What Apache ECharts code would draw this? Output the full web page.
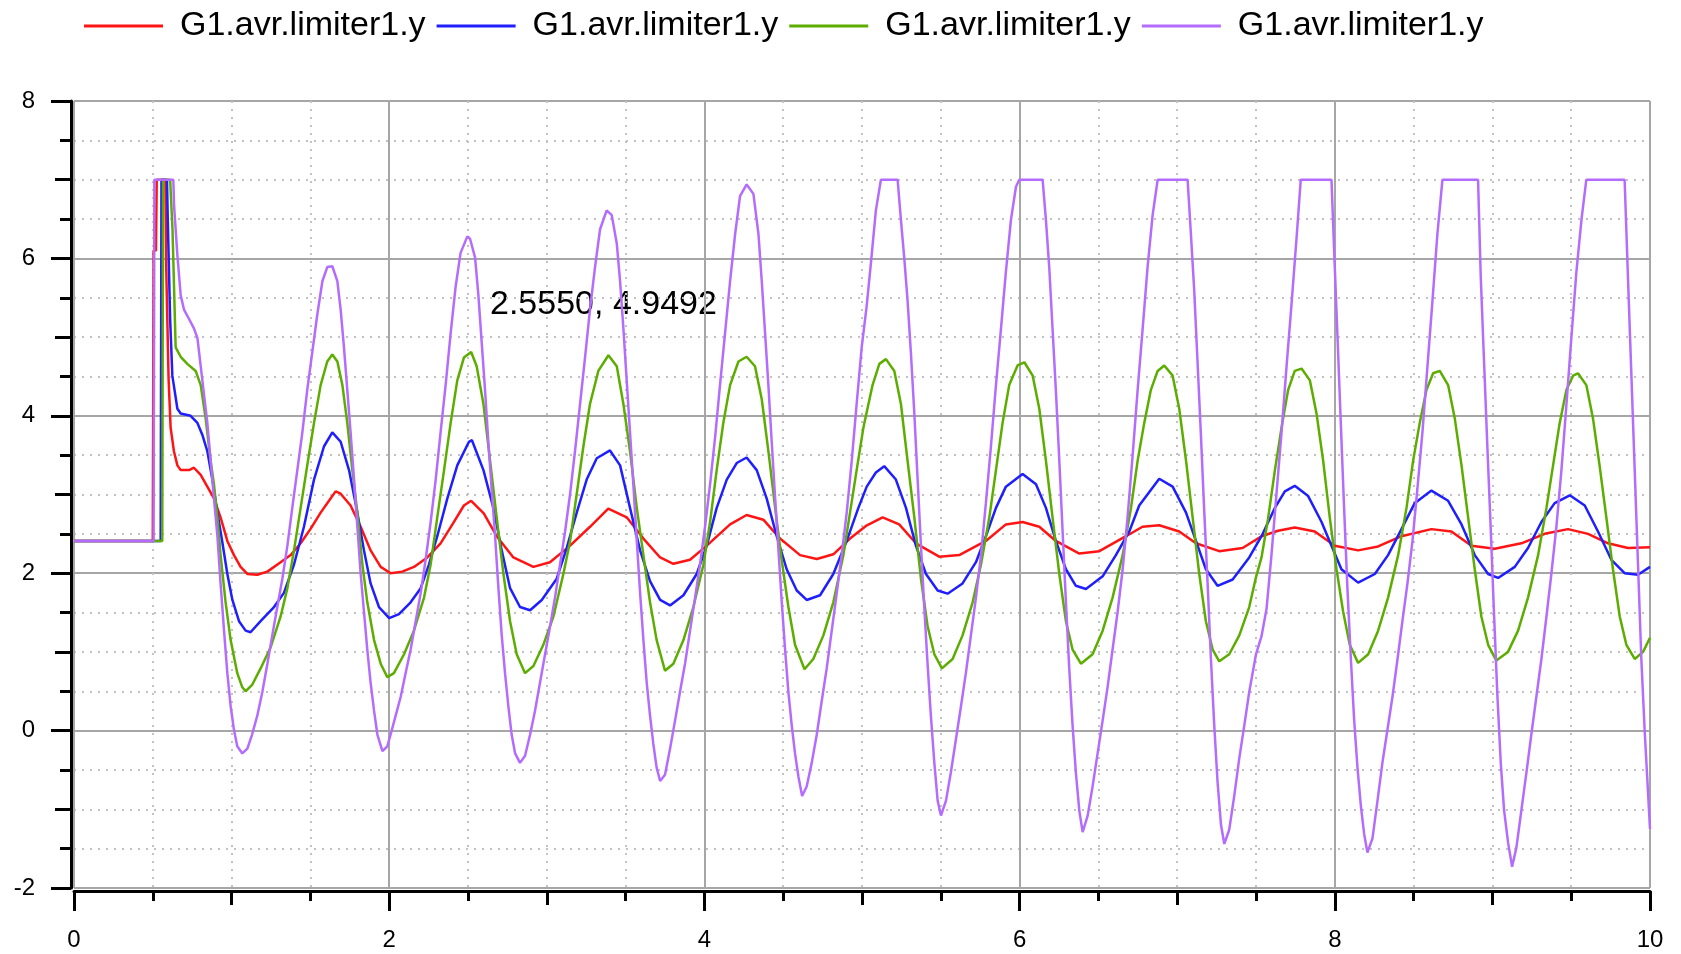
<!DOCTYPE html>
<html>
<head>
<meta charset="utf-8">
<script src="https://cdn.jsdelivr.net/npm/echarts@6/dist/echarts.min.js"></script>
<style>
  html, body { margin: 0; padding: 0; background: #fff; }
  #chart { width: 1681px; height: 954px; }
</style>
</head>
<body>
<div id="chart"></div>
<script>
// signal values, [time, value]
const legendLabel = 'G1.avr.limiter1.y';
const cursorText = '2.5550, 4.9492';
const yTicks = { min: -2, max: 8, step: 2 };
const xTicks = { min: 0, max: 10, step: 2 };

const redPoints = [
  [0, 2.41], [0.5, 2.41], [0.505, 6.1], [0.52, 6.1], [0.525, 7], [0.58, 7], [0.585, 5.9], [0.596, 5.9],
  [0.6, 4.48], [0.613, 3.85], [0.634, 3.55], [0.656, 3.37], [0.677, 3.31], [0.73, 3.31], [0.761, 3.34],
  [0.804, 3.25], [0.846, 3.1], [0.888, 2.95], [0.93, 2.71], [0.973, 2.41], [1.015, 2.23], [1.057, 2.08],
  [1.1, 1.99], [1.163, 1.98], [1.227, 2.02], [1.311, 2.14], [1.375, 2.23], [1.438, 2.38], [1.5, 2.56],
  [1.565, 2.77], [1.628, 2.95], [1.66, 3.04], [1.692, 3.01], [1.755, 2.86], [1.819, 2.59], [1.882, 2.29],
  [1.946, 2.08], [2.009, 2.0], [2.083, 2.02], [2.157, 2.08], [2.242, 2.2], [2.326, 2.38], [2.41, 2.65],
  [2.474, 2.86], [2.52, 2.92], [2.6, 2.76], [2.682, 2.47], [2.788, 2.2], [2.915, 2.08], [3.02, 2.14],
  [3.148, 2.35], [3.274, 2.59], [3.39, 2.82], [3.507, 2.71], [3.613, 2.44], [3.719, 2.2], [3.803, 2.12],
  [3.909, 2.17], [4.015, 2.35], [4.163, 2.62], [4.268, 2.74], [4.374, 2.68], [4.48, 2.44], [4.607, 2.23],
  [4.713, 2.18], [4.818, 2.24], [4.924, 2.44], [5.025, 2.6], [5.131, 2.71], [5.236, 2.62], [5.342, 2.38],
  [5.49, 2.21], [5.617, 2.23], [5.786, 2.41], [5.913, 2.62], [6.019, 2.65], [6.125, 2.59], [6.23, 2.41],
  [6.379, 2.25], [6.506, 2.28], [6.675, 2.47], [6.78, 2.59], [6.886, 2.61], [7.013, 2.53], [7.119, 2.38],
  [7.267, 2.28], [7.415, 2.32], [7.535, 2.47], [7.64, 2.54], [7.746, 2.58], [7.873, 2.53], [8.0, 2.35],
  [8.148, 2.29], [8.275, 2.34], [8.423, 2.47], [8.613, 2.56], [8.74, 2.53], [8.867, 2.35], [9.015, 2.31],
  [9.184, 2.38], [9.332, 2.5], [9.48, 2.56], [9.607, 2.5], [9.734, 2.38], [9.86, 2.32], [10, 2.33]
];

const bluePoints = [
  [0, 2.41], [0.55, 2.41], [0.555, 7], [0.59, 7], [0.595, 6.49], [0.61, 5.23], [0.624, 4.51], [0.656, 4.09],
  [0.677, 4.03], [0.74, 4.0], [0.783, 3.91], [0.814, 3.76], [0.846, 3.55], [0.878, 3.19], [0.91, 2.77],
  [0.94, 2.41], [0.973, 1.99], [1.005, 1.66], [1.047, 1.39], [1.089, 1.27], [1.12, 1.25], [1.184, 1.39],
  [1.269, 1.57], [1.332, 1.75], [1.396, 2.11], [1.459, 2.59], [1.523, 3.19], [1.586, 3.61], [1.639, 3.79],
  [1.692, 3.67], [1.745, 3.31], [1.798, 2.77], [1.84, 2.29], [1.882, 1.87], [1.935, 1.57], [2.0, 1.43],
  [2.062, 1.48], [2.136, 1.63], [2.2, 1.81], [2.252, 2.11], [2.305, 2.47], [2.369, 2.95], [2.432, 3.37],
  [2.506, 3.67], [2.525, 3.69], [2.598, 3.31], [2.661, 2.83], [2.714, 2.29], [2.767, 1.81], [2.83, 1.57],
  [2.894, 1.53], [2.968, 1.66], [3.063, 1.93], [3.126, 2.32], [3.19, 2.77], [3.253, 3.19], [3.317, 3.46],
  [3.401, 3.56], [3.465, 3.37], [3.528, 2.83], [3.592, 2.29], [3.655, 1.9], [3.719, 1.66], [3.782, 1.59],
  [3.867, 1.72], [3.951, 1.99], [4.015, 2.35], [4.078, 2.83], [4.142, 3.19], [4.205, 3.4], [4.268, 3.47],
  [4.332, 3.31], [4.395, 2.95], [4.459, 2.47], [4.522, 2.05], [4.586, 1.78], [4.649, 1.66], [4.734, 1.72],
  [4.818, 1.99], [4.903, 2.41], [4.977, 2.83], [5.03, 3.1], [5.088, 3.28], [5.141, 3.36], [5.215, 3.19],
  [5.279, 2.83], [5.342, 2.35], [5.406, 1.99], [5.48, 1.78], [5.543, 1.74], [5.638, 1.87], [5.723, 2.14],
  [5.786, 2.47], [5.85, 2.83], [5.913, 3.1], [6.019, 3.26], [6.104, 3.13], [6.167, 2.83], [6.23, 2.41],
  [6.294, 2.05], [6.357, 1.84], [6.421, 1.8], [6.527, 1.96], [6.611, 2.23], [6.696, 2.53], [6.759, 2.86],
  [6.886, 3.2], [6.971, 3.1], [7.056, 2.77], [7.119, 2.41], [7.182, 2.05], [7.256, 1.84], [7.352, 1.92],
  [7.457, 2.2], [7.535, 2.47], [7.62, 2.83], [7.683, 3.04], [7.746, 3.11], [7.831, 2.98], [7.916, 2.65],
  [7.979, 2.35], [8.042, 2.05], [8.148, 1.88], [8.254, 1.99], [8.338, 2.23], [8.423, 2.56], [8.507, 2.89],
  [8.613, 3.05], [8.719, 2.92], [8.804, 2.62], [8.888, 2.23], [8.973, 1.99], [9.036, 1.94], [9.142, 2.08],
  [9.226, 2.32], [9.311, 2.65], [9.395, 2.89], [9.491, 2.99], [9.586, 2.86], [9.67, 2.53], [9.755, 2.17],
  [9.839, 2.0], [9.924, 1.98], [10, 2.08]
];

const greenPoints = [
  [0, 2.41], [0.56, 2.41], [0.565, 7], [0.61, 7], [0.625, 6.37], [0.645, 4.87], [0.677, 4.75], [0.719, 4.66],
  [0.772, 4.57], [0.804, 4.39], [0.835, 3.97], [0.867, 3.43], [0.888, 3.13], [0.91, 2.71], [0.93, 2.23],
  [0.962, 1.63], [0.994, 1.15], [1.036, 0.73], [1.068, 0.55], [1.089, 0.5], [1.13, 0.58], [1.184, 0.79],
  [1.248, 1.06], [1.311, 1.45], [1.354, 1.81], [1.396, 2.29], [1.438, 2.83], [1.48, 3.37], [1.523, 3.91],
  [1.565, 4.39], [1.607, 4.69], [1.639, 4.78], [1.671, 4.69], [1.703, 4.39], [1.734, 3.91], [1.766, 3.31],
  [1.798, 2.77], [1.83, 2.11], [1.861, 1.63], [1.904, 1.15], [1.946, 0.85], [1.988, 0.68], [2.03, 0.73],
  [2.094, 0.97], [2.157, 1.27], [2.221, 1.69], [2.263, 2.11], [2.305, 2.71], [2.348, 3.31], [2.39, 3.91],
  [2.432, 4.45], [2.474, 4.74], [2.52, 4.81], [2.555, 4.63], [2.598, 4.15], [2.64, 3.43], [2.682, 2.71],
  [2.725, 1.99], [2.767, 1.39], [2.809, 0.97], [2.862, 0.73], [2.915, 0.82], [2.978, 1.09], [3.042, 1.45],
  [3.105, 1.99], [3.148, 2.41], [3.19, 3.01], [3.232, 3.61], [3.274, 4.15], [3.327, 4.57], [3.391, 4.77],
  [3.444, 4.63], [3.486, 4.15], [3.528, 3.55], [3.571, 2.83], [3.613, 2.23], [3.655, 1.63], [3.697, 1.15],
  [3.75, 0.76], [3.803, 0.85], [3.867, 1.15], [3.93, 1.57], [3.994, 2.11], [4.036, 2.65], [4.078, 3.31],
  [4.12, 3.91], [4.163, 4.39], [4.216, 4.69], [4.268, 4.75], [4.321, 4.63], [4.364, 4.21], [4.406, 3.55],
  [4.449, 2.83], [4.49, 2.17], [4.533, 1.57], [4.575, 1.09], [4.635, 0.78], [4.691, 0.91], [4.755, 1.21],
  [4.818, 1.63], [4.882, 2.23], [4.924, 2.77], [4.966, 3.31], [5.009, 3.85], [5.067, 4.39], [5.11, 4.66],
  [5.152, 4.72], [5.205, 4.57], [5.247, 4.15], [5.289, 3.43], [5.332, 2.71], [5.374, 1.93], [5.416, 1.33],
  [5.459, 0.97], [5.507, 0.79], [5.575, 0.91], [5.638, 1.21], [5.702, 1.63], [5.755, 2.11], [5.808, 2.71],
  [5.85, 3.31], [5.892, 3.91], [5.934, 4.39], [5.987, 4.64], [6.03, 4.68], [6.083, 4.51], [6.125, 4.09],
  [6.167, 3.43], [6.209, 2.71], [6.252, 1.99], [6.294, 1.39], [6.336, 1.03], [6.389, 0.85], [6.463, 0.97],
  [6.527, 1.27], [6.59, 1.69], [6.654, 2.23], [6.707, 2.83], [6.749, 3.43], [6.791, 3.91], [6.833, 4.33],
  [6.876, 4.57], [6.918, 4.64], [6.971, 4.51], [7.013, 4.09], [7.056, 3.43], [7.098, 2.71], [7.14, 1.99],
  [7.182, 1.39], [7.225, 1.03], [7.267, 0.88], [7.33, 0.97], [7.394, 1.21], [7.457, 1.57], [7.5, 1.95],
  [7.535, 2.2], [7.577, 2.7], [7.62, 3.31], [7.662, 3.85], [7.704, 4.33], [7.746, 4.57], [7.789, 4.6],
  [7.842, 4.45], [7.884, 4.03], [7.926, 3.43], [7.968, 2.71], [8.011, 2.05], [8.053, 1.51], [8.095, 1.09],
  [8.148, 0.86], [8.212, 0.97], [8.275, 1.27], [8.338, 1.69], [8.402, 2.23], [8.455, 2.83], [8.497, 3.43],
  [8.539, 3.91], [8.582, 4.33], [8.624, 4.54], [8.666, 4.57], [8.719, 4.39], [8.761, 3.97], [8.804, 3.37],
  [8.846, 2.71], [8.888, 2.05], [8.93, 1.45], [8.973, 1.09], [9.025, 0.89], [9.099, 1.0], [9.163, 1.27],
  [9.226, 1.69], [9.29, 2.23], [9.343, 2.83], [9.385, 3.37], [9.427, 3.91], [9.47, 4.33], [9.512, 4.51],
  [9.543, 4.54], [9.596, 4.39], [9.638, 3.97], [9.68, 3.37], [9.723, 2.71], [9.765, 2.05], [9.808, 1.45],
  [9.85, 1.09], [9.903, 0.91], [9.956, 1.0], [10, 1.18]
];

const purplePoints = [
  [0, 2.41], [0.505, 2.41], [0.51, 7], [0.63, 7], [0.635, 6.67], [0.656, 6.04], [0.677, 5.53], [0.698, 5.35],
  [0.73, 5.23], [0.761, 5.11], [0.783, 4.99], [0.804, 4.63], [0.825, 4.27], [0.846, 3.91], [0.867, 3.43],
  [0.888, 2.95], [0.91, 2.47], [0.93, 1.87], [0.952, 1.27], [0.973, 0.73], [0.994, 0.31], [1.015, 0.01],
  [1.036, -0.2], [1.068, -0.29], [1.1, -0.23], [1.13, -0.05], [1.163, 0.19], [1.195, 0.49], [1.227, 0.85],
  [1.258, 1.21], [1.29, 1.57], [1.322, 1.93], [1.354, 2.35], [1.385, 2.83], [1.417, 3.31], [1.449, 3.79],
  [1.48, 4.33], [1.512, 4.81], [1.544, 5.29], [1.576, 5.71], [1.607, 5.89], [1.639, 5.9], [1.671, 5.71],
  [1.692, 5.35], [1.713, 4.87], [1.734, 4.33], [1.755, 3.79], [1.777, 3.19], [1.798, 2.59], [1.819, 1.99],
  [1.84, 1.51], [1.861, 1.03], [1.882, 0.61], [1.904, 0.25], [1.925, -0.05], [1.957, -0.26], [1.988, -0.2],
  [2.009, -0.05], [2.041, 0.19], [2.073, 0.43], [2.104, 0.73], [2.136, 1.03], [2.168, 1.39], [2.2, 1.75],
  [2.231, 2.17], [2.263, 2.65], [2.295, 3.19], [2.326, 3.79], [2.358, 4.39], [2.39, 5.05], [2.422, 5.65],
  [2.453, 6.07], [2.496, 6.28], [2.513, 6.25], [2.545, 6.01], [2.566, 5.53], [2.587, 4.93], [2.608, 4.33],
  [2.629, 3.67], [2.65, 3.07], [2.672, 2.47], [2.693, 1.81], [2.714, 1.21], [2.735, 0.73], [2.756, 0.31],
  [2.777, -0.05], [2.799, -0.29], [2.83, -0.41], [2.862, -0.32], [2.894, -0.05], [2.925, 0.25], [2.957, 0.61],
  [2.989, 0.97], [3.021, 1.33], [3.052, 1.69], [3.084, 2.11], [3.116, 2.53], [3.148, 3.01], [3.179, 3.55],
  [3.211, 4.15], [3.243, 4.75], [3.274, 5.35], [3.306, 5.89], [3.338, 6.37], [3.38, 6.61], [3.412, 6.55],
  [3.444, 6.19], [3.465, 5.71], [3.486, 5.11], [3.507, 4.45], [3.528, 3.79], [3.549, 3.13], [3.571, 2.41],
  [3.592, 1.75], [3.613, 1.15], [3.634, 0.61], [3.655, 0.19], [3.676, -0.17], [3.697, -0.47], [3.719, -0.64],
  [3.75, -0.56], [3.782, -0.23], [3.814, 0.13], [3.845, 0.49], [3.877, 0.85], [3.909, 1.27], [3.941, 1.69],
  [3.972, 2.11], [4.004, 2.59], [4.036, 3.13], [4.068, 3.73], [4.099, 4.39], [4.131, 5.05], [4.163, 5.71],
  [4.195, 6.31], [4.226, 6.79], [4.268, 6.94], [4.311, 6.82], [4.343, 6.31], [4.364, 5.71], [4.385, 5.05],
  [4.406, 4.39], [4.427, 3.67], [4.449, 2.95], [4.47, 2.29], [4.491, 1.63], [4.512, 1.03], [4.533, 0.49],
  [4.554, 0.07], [4.575, -0.29], [4.597, -0.59], [4.62, -0.83], [4.649, -0.71], [4.681, -0.41], [4.713, -0.05],
  [4.744, 0.37], [4.776, 0.79], [4.808, 1.27], [4.84, 1.75], [4.871, 2.23], [4.903, 2.77], [4.935, 3.43],
  [4.966, 4.15], [4.998, 4.87], [5.03, 5.4], [5.057, 5.95], [5.088, 6.61], [5.12, 7], [5.226, 7],
  [5.247, 6.49], [5.268, 6.01], [5.289, 5.47], [5.31, 4.81], [5.332, 4.03], [5.353, 3.19], [5.374, 2.35],
  [5.395, 1.57], [5.416, 0.85], [5.437, 0.19], [5.459, -0.41], [5.48, -0.89], [5.501, -1.08], [5.533, -0.89],
  [5.564, -0.53], [5.596, -0.11], [5.628, 0.31], [5.659, 0.73], [5.691, 1.21], [5.723, 1.69], [5.755, 2.23],
  [5.786, 2.89], [5.818, 3.61], [5.85, 4.39], [5.882, 5.11], [5.913, 5.83], [5.945, 6.49], [5.977, 6.91],
  [5.998, 7], [6.146, 7], [6.167, 6.49], [6.188, 5.89], [6.209, 5.11], [6.23, 4.33], [6.252, 3.43],
  [6.273, 2.53], [6.294, 1.63], [6.315, 0.79], [6.336, 0.07], [6.357, -0.53], [6.379, -1.02], [6.4, -1.29],
  [6.432, -1.08], [6.463, -0.71], [6.495, -0.29], [6.527, 0.13], [6.558, 0.55], [6.59, 1.03], [6.622, 1.51],
  [6.654, 2.05], [6.685, 2.71], [6.717, 3.49], [6.749, 4.33], [6.781, 5.11], [6.812, 5.89], [6.844, 6.55],
  [6.876, 7], [7.066, 7], [7.087, 6.31], [7.108, 5.59], [7.129, 4.69], [7.151, 3.73], [7.172, 2.77],
  [7.193, 1.87], [7.214, 0.91], [7.235, 0.07], [7.256, -0.65], [7.278, -1.2], [7.299, -1.44], [7.33, -1.26],
  [7.362, -0.83], [7.394, -0.35], [7.426, 0.07], [7.457, 0.49], [7.5, 0.97], [7.535, 1.2], [7.567, 1.55],
  [7.598, 2.23], [7.63, 3.01], [7.662, 3.79], [7.694, 4.63], [7.725, 5.41], [7.757, 6.25], [7.784, 7],
  [7.979, 7], [7.996, 6.09], [8.017, 5.01], [8.038, 3.91], [8.059, 2.83], [8.08, 1.81], [8.102, 0.91],
  [8.123, 0.13], [8.144, -0.47], [8.165, -0.95], [8.186, -1.31], [8.207, -1.55], [8.239, -1.37], [8.271, -0.89],
  [8.302, -0.41], [8.334, 0.01], [8.366, 0.43], [8.398, 0.91], [8.429, 1.39], [8.461, 1.87], [8.493, 2.41],
  [8.524, 3.07], [8.556, 3.79], [8.588, 4.63], [8.62, 5.47], [8.651, 6.31], [8.683, 7], [8.909, 7],
  [8.926, 5.77], [8.947, 4.69], [8.968, 3.61], [8.99, 2.53], [9.011, 1.45], [9.032, 0.43], [9.053, -0.41],
  [9.074, -1.01], [9.1, -1.43], [9.125, -1.73], [9.152, -1.49], [9.184, -1.01], [9.216, -0.53], [9.247, -0.05],
  [9.279, 0.43], [9.311, 0.91], [9.343, 1.45], [9.374, 1.99], [9.406, 2.59], [9.438, 3.31], [9.47, 4.15],
  [9.501, 4.99], [9.533, 5.83], [9.565, 6.49], [9.596, 7], [9.839, 7], [9.861, 5.71], [9.882, 4.51],
  [9.903, 3.31], [9.924, 2.11], [9.945, 0.91], [9.966, 0.01], [9.987, -0.77], [10, -1.25]
];

const seriesList = [
  { name: legendLabel + ' #1', color: '#ff1414', data: redPoints },
  { name: legendLabel + ' #2', color: '#1e1eff', data: bluePoints },
  { name: legendLabel + ' #3', color: '#5cad00', data: greenPoints },
  { name: legendLabel + ' #4', color: '#b46cff', data: purplePoints }
];

const font = "'Liberation Sans', Arial, Helvetica, sans-serif";
const black = '#000';
const majorGrid = '#a6a6a6';
const minorGrid = '#c2c2c2';

const chart = echarts.init(document.getElementById('chart'), null, { renderer: 'canvas' });

const option = {
  backgroundColor: '#fff',
  animation: false,
  legend: {
    left: 79,
    top: 4,
    icon: 'rect',
    itemWidth: 79,
    itemHeight: 3,
    itemGap: 11,
    formatter: (name) => name.split(' #')[0],
    textStyle: { fontFamily: font, fontSize: 34, color: black, padding: [0, 0, 0, 12] }
  },
  grid: { left: 74, right: 31, top: 101, bottom: 66 },
  xAxis: [
    {
      type: 'value',
      position: 'bottom',
      offset: 3,
      min: xTicks.min,
      max: xTicks.max,
      interval: xTicks.step,
      axisLine: { show: true, onZero: false, lineStyle: { color: black, width: 3 } },
      axisTick: { show: true, length: 20, lineStyle: { color: black, width: 3 } },
      minorTick: { show: true, splitNumber: 4, length: 10, lineStyle: { color: black, width: 3 } },
      axisLabel: { fontFamily: font, fontSize: 24, color: black, margin: 37 },
      splitLine: { show: true, lineStyle: { color: majorGrid, width: 2 } },
      minorSplitLine: { show: true, lineStyle: { color: minorGrid, width: 2, type: [2, 6] } }
    },
    {
      type: 'value',
      position: 'bottom',
      offset: 3,
      min: xTicks.min,
      max: xTicks.max,
      interval: 1,
      axisLine: { show: false, onZero: false },
      axisTick: { show: true, length: 14, lineStyle: { color: black, width: 3 } },
      axisLabel: { show: false },
      splitLine: { show: false }
    }
  ],
  yAxis: [
    {
      type: 'value',
      position: 'left',
      offset: 3,
      min: yTicks.min,
      max: yTicks.max,
      interval: yTicks.step,
      axisLine: { show: true, onZero: false, lineStyle: { color: black, width: 3 } },
      axisTick: { show: true, length: 20, lineStyle: { color: black, width: 3 } },
      minorTick: { show: true, splitNumber: 4, length: 11, lineStyle: { color: black, width: 3 } },
      axisLabel: { fontFamily: font, fontSize: 24, color: black, margin: 36 },
      splitLine: { show: true, lineStyle: { color: majorGrid, width: 2 } },
      minorSplitLine: { show: true, lineStyle: { color: minorGrid, width: 2, type: [2, 6] } }
    },
    {
      type: 'value',
      position: 'left',
      offset: 3,
      min: yTicks.min,
      max: yTicks.max,
      interval: 1,
      axisLine: { show: false, onZero: false },
      axisTick: { show: true, length: 16, lineStyle: { color: black, width: 3 } },
      axisLabel: { show: false },
      splitLine: { show: false }
    }
  ],
  graphic: [
    {
      type: 'text',
      left: 490,
      top: 288,
      style: { text: cursorText, font: '34px ' + font, fill: black }
    }
  ],
  series: seriesList.map(s => ({
    name: s.name,
    type: 'line',
    xAxisIndex: 0,
    yAxisIndex: 0,
    symbol: 'none',
    showSymbol: false,
    color: s.color,
    lineStyle: { color: s.color, width: 2.5 },
    data: s.data
  }))
};

chart.setOption(option);
</script>
</body>
</html>
